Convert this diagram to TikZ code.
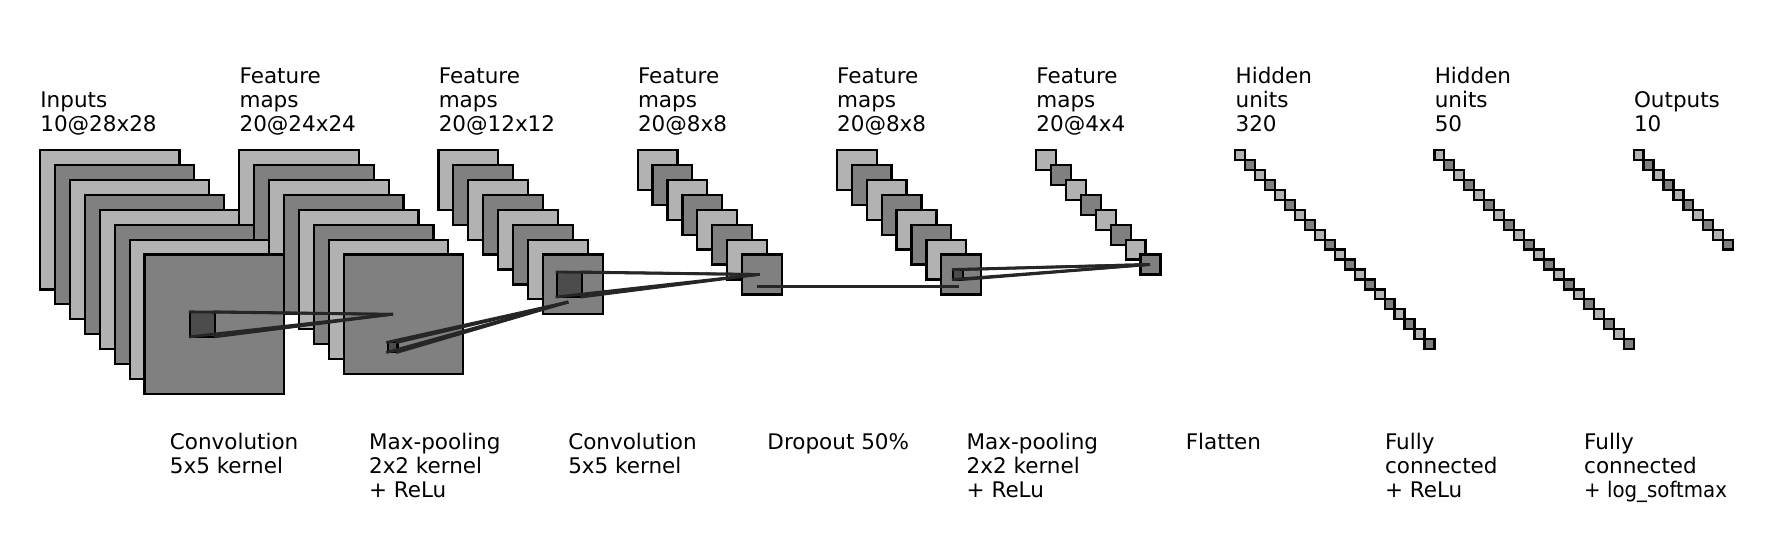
\documentclass[tikz,border=0pt]{standalone}
\usepackage{fontspec}
\usepackage{graphicx}
\setmainfont{DejaVu Sans}
\newcommand\cnnlbl[2][t]{\begin{tabular}[#1]{@{}l@{}}#2\end{tabular}}
\definecolor{lightg}{gray}{0.7}
\definecolor{medg}{gray}{0.5}
\definecolor{darkg}{gray}{0.3}
\definecolor{darkerg}{gray}{0.15}
\begin{document}
\begin{tikzpicture}[x=2.49pt,y=2.49pt,
  sq/.style={draw=black,line width=1.1pt},
  conn/.style={draw=darkerg,line width=1.4pt,line cap=rect},
  lbl/.style={inner sep=0pt,anchor=base west,text=black,font=\fontsize{10.75pt}{12pt}\selectfont}
]
\useasboundingbox (-20pt,-205pt) rectangle (871pt,75pt);

% convolutional layers (drawn last layer first)
\foreach \i/\s in {5/4,4/8,3/8,2/12,1/24,0/28}{
  \foreach \k in {0,...,7}{
    \ifodd\k\def\c{medg}\else\def\c{lightg}\fi
    \filldraw[sq,fill=\c] ({40*\i+3*\k},{-\s-3*\k}) rectangle ++(\s,\s);
  }
}

% mapping patches
\coordinate (p0a) at (30.2,-32.5); \coordinate (p0b) at (35.2,-32.5);
\coordinate (p0c) at (30.2,-37.5); \coordinate (p0d) at (35.2,-37.5);
\coordinate (e0) at (70.6,-33);
\coordinate (p1a) at (69.8,-38.6); \coordinate (p1b) at (71.8,-38.6);
\coordinate (p1c) at (69.8,-40.6); \coordinate (p1d) at (71.8,-40.6);
\coordinate (e1) at (105.8,-30.6);
\coordinate (p2a) at (103.8,-24.5); \coordinate (p2b) at (108.8,-24.5);
\coordinate (p2c) at (103.8,-29.5); \coordinate (p2d) at (108.8,-29.5);
\coordinate (e2) at (144.2,-25);
\coordinate (p3a) at (144.2,-27.4);
\coordinate (e3) at (184.2,-27.4);
\coordinate (p4a) at (183.4,-24); \coordinate (p4b) at (185.4,-24);
\coordinate (p4c) at (183.4,-26); \coordinate (p4d) at (185.4,-26);
\coordinate (e4) at (222.6,-23);

\foreach \m in {0,1,2,4}{
  \filldraw[sq,fill=darkg] (p\m a) rectangle (p\m d);
}

% fully connected layers
\foreach \j/\n in {0/19,1/19,2/9}{
  \foreach \k in {0,...,\n}{
    \ifodd\k\def\c{medg}\else\def\c{lightg}\fi
    \filldraw[sq,fill=\c] ({240+40*\j+2*\k},{-2-2*\k}) rectangle ++(2,2);
  }
}

% mapping lines
\foreach \m in {0,1,2,4}{
  \draw[conn] (p\m a) -- (e\m);
  \draw[conn] (p\m b) -- (e\m);
  \draw[conn] (p\m c) -- (e\m);
  \draw[conn] (p\m d) -- (e\m);
}
\draw[conn] (p3a) -- (e3);

% top labels
\node[lbl] (t0) at (0,3.65) {\cnnlbl[b]{Inputs\\10@28x28}};
\node[lbl] (t1) at (40,3.65) {\cnnlbl[b]{Feature\\maps\\20@24x24}};
\node[lbl] (t2) at (80,3.65) {\cnnlbl[b]{Feature\\maps\\20@12x12}};
\node[lbl] (t3) at (120,3.65) {\cnnlbl[b]{Feature\\maps\\20@8x8}};
\node[lbl] (t4) at (160,3.65) {\cnnlbl[b]{Feature\\maps\\20@8x8}};
\node[lbl] (t5) at (200,3.65) {\cnnlbl[b]{Feature\\maps\\20@4x4}};
\node[lbl] (t6) at (240,3.65) {\cnnlbl[b]{Hidden\\units\\320}};
\node[lbl] (t7) at (280,3.65) {\cnnlbl[b]{Hidden\\units\\50}};
\node[lbl] (t8) at (320,3.65) {\cnnlbl[b]{Outputs\\10}};

% bottom labels
\node[lbl] (b0) at (26,-60.1) {\cnnlbl[t]{Convolution\\5x5 kernel}};
\node[lbl] (b1) at (66,-60.1) {\cnnlbl[t]{Max-pooling\\2x2 kernel\\+ ReLu}};
\node[lbl] (b2) at (106,-60.1) {\cnnlbl[t]{Convolution\\5x5 kernel}};
\node[lbl] (b3) at (146,-60.1) {\cnnlbl[t]{Dropout 50\%}};
\node[lbl] (b4) at (186,-60.1) {\cnnlbl[t]{Max-pooling\\2x2 kernel\\+ ReLu}};
\node[lbl] (b5) at (230,-60.1) {\cnnlbl[t]{Flatten}};
\node[lbl] (b6) at (270,-60.1) {\cnnlbl[t]{Fully\\connected\\+ ReLu}};
\node[lbl] (b7) at (310,-60.1) {\cnnlbl[t]{Fully\\connected\\\scalebox{0.92}[1]{+ log\_softmax}}};
\end{tikzpicture}
\end{document}
